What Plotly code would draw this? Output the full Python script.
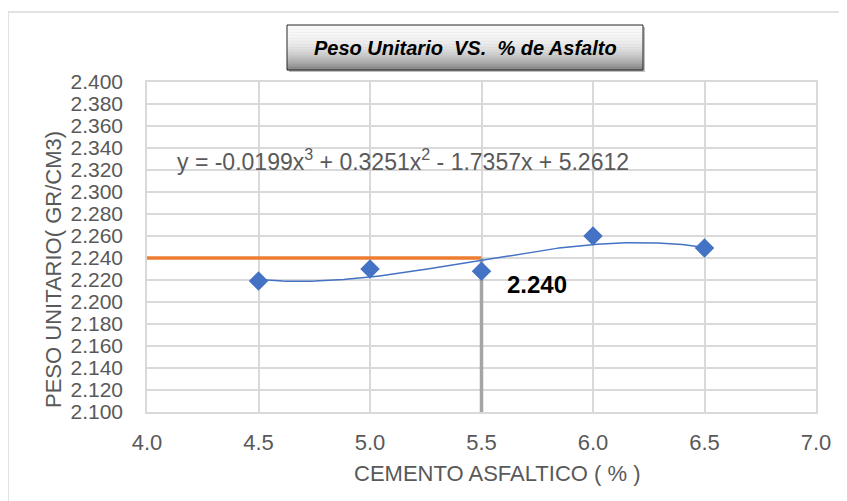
import numpy as np
import plotly.graph_objects as go

# datos
asfalto = [4.5, 5.0, 5.5, 6.0, 6.5]
peso_unitario = [2.219, 2.230, 2.228, 2.260, 2.249]

# coeficientes de la linea de tendencia (polinomica grado 3, del rotulo)
coef = [-0.0199, 0.3251, -1.7357, 5.2612]

# valor optimo
opt_x = [4.0, 5.5]
opt_y = [2.240, 2.240]
vert_x = [5.5, 5.5]
vert_y = [2.100, 2.240]

xt = np.linspace(min(asfalto), max(asfalto), 200)
yt = np.polyval(coef, xt)

font_fam = "Arial, Liberation Sans, sans-serif"
grid = "#d9d9d9"
txt = "#595959"

fig = go.Figure()

fig.add_trace(go.Scatter(x=opt_x, y=opt_y, mode='lines',
                         line=dict(color='#ED7D31', width=3.5), showlegend=False))
fig.add_trace(go.Scatter(x=vert_x, y=vert_y, mode='lines',
                         line=dict(color='#A5A5A5', width=3.5), showlegend=False))
fig.add_trace(go.Scatter(x=xt, y=yt, mode='lines',
                         line=dict(color='#4472C4', width=1.5), showlegend=False))
fig.add_trace(go.Scatter(x=asfalto, y=peso_unitario, mode='markers',
                         marker=dict(symbol='diamond', size=15, color='#4472C4'),
                         showlegend=False))

# la pagina tiene 8px de margen en body: trabajar en px de pagina y restar OFF
OFF = 8
L, R, T, B = 147 - OFF, 816 - OFF, 82 - OFF, 412 - OFF
FW, FH = 847 - OFF, 501 - OFF
W, H = R - L, B - T


def px(x):
    return (x - OFF - L) / W


def py(y):
    return (B - (y - OFF)) / H


shapes = []
# borde exterior del grafico
shapes.append(dict(type='rect', xref='paper', yref='paper',
                   x0=px(8), x1=px(900), y0=py(560), y1=py(12),
                   line=dict(color=grid, width=1.5), fillcolor='rgba(0,0,0,0)', layer='below'))

bx0, bx1, by0, by1 = 287, 643, 25, 70
# sombra
shapes.append(dict(type='rect', xref='paper', yref='paper',
                   x0=px(bx0 + 2), x1=px(bx1 + 2), y0=py(by1 + 2), y1=py(by0 + 2),
                   line=dict(width=0), fillcolor='rgba(0,0,0,0.25)'))
n = 30
for i in range(n):
    t = (i + 0.5) / n
    g = int(250 - 125 * t ** 2.4)
    ya = by0 + (by1 - by0) * i / n
    yb = by0 + (by1 - by0) * (i + 1) / n
    shapes.append(dict(type='rect', xref='paper', yref='paper',
                       x0=px(bx0), x1=px(bx1), y0=py(yb + 0.3), y1=py(ya),
                       line=dict(width=0), fillcolor=f'rgb({g},{g},{g})'))
shapes.append(dict(type='rect', xref='paper', yref='paper',
                   x0=px(bx0), x1=px(bx1), y0=py(by1), y1=py(by0),
                   line=dict(color='#262626', width=1), fillcolor='rgba(0,0,0,0)'))

annotations = [
    dict(text="<b><i>Peso Unitario  VS.  % de Asfalto</i></b>", xref='paper', yref='paper',
         x=px(465), y=py(47.5), showarrow=False, xanchor='center', yanchor='middle',
         font=dict(size=20, color='black', family=font_fam)),
    dict(text="y = -0.0199x<sup>3</sup> + 0.3251x<sup>2</sup> - 1.7357x + 5.2612",
         x=4.125, y=2.329, xref='x', yref='y', showarrow=False, xanchor='left', yanchor='middle',
         font=dict(size=23, color=txt, family=font_fam)),
    dict(text="<b>2.240</b>", x=5.749, y=2.2155, xref='x', yref='y', showarrow=False,
         xanchor='center', yanchor='middle', font=dict(size=24, color='black', family=font_fam)),
    dict(text="PESO UNITARIO( GR/CM3)", xref='paper', yref='paper', x=px(53), y=py(270),
         textangle=-90, showarrow=False, xanchor='center', yanchor='middle',
         font=dict(size=22, color=txt, family=font_fam)),
    dict(text="CEMENTO ASFALTICO ( % )", xref='paper', yref='paper', x=px(497), y=py(473),
         showarrow=False, xanchor='center', yanchor='middle',
         font=dict(size=22, color=txt, family=font_fam)),
]

fig.update_layout(
    width=FW, height=FH,
    margin=dict(l=L, r=FW - R, t=T, b=FH - B),
    paper_bgcolor='white', plot_bgcolor='white',
    font=dict(family=font_fam, color=txt, size=22),
    shapes=shapes, annotations=annotations,
)
fig.update_xaxes(range=[4.0, 7.0], dtick=0.5, tick0=4.0, tickformat='.1f',
                 showgrid=True, gridcolor=grid, gridwidth=1.5,
                 showline=True, linecolor=grid, linewidth=1.5, mirror=True,
                 zeroline=False, ticklabelstandoff=10,
                 tickfont=dict(size=22, color=txt))
fig.update_yaxes(range=[2.1, 2.4], dtick=0.02, tick0=2.1, tickformat='.3f',
                 showgrid=True, gridcolor=grid, gridwidth=1.5,
                 showline=True, linecolor=grid, linewidth=1.5, mirror=True,
                 zeroline=False, ticklabelstandoff=18,
                 tickfont=dict(size=21, color=txt))

fig.write_html("out.html")
